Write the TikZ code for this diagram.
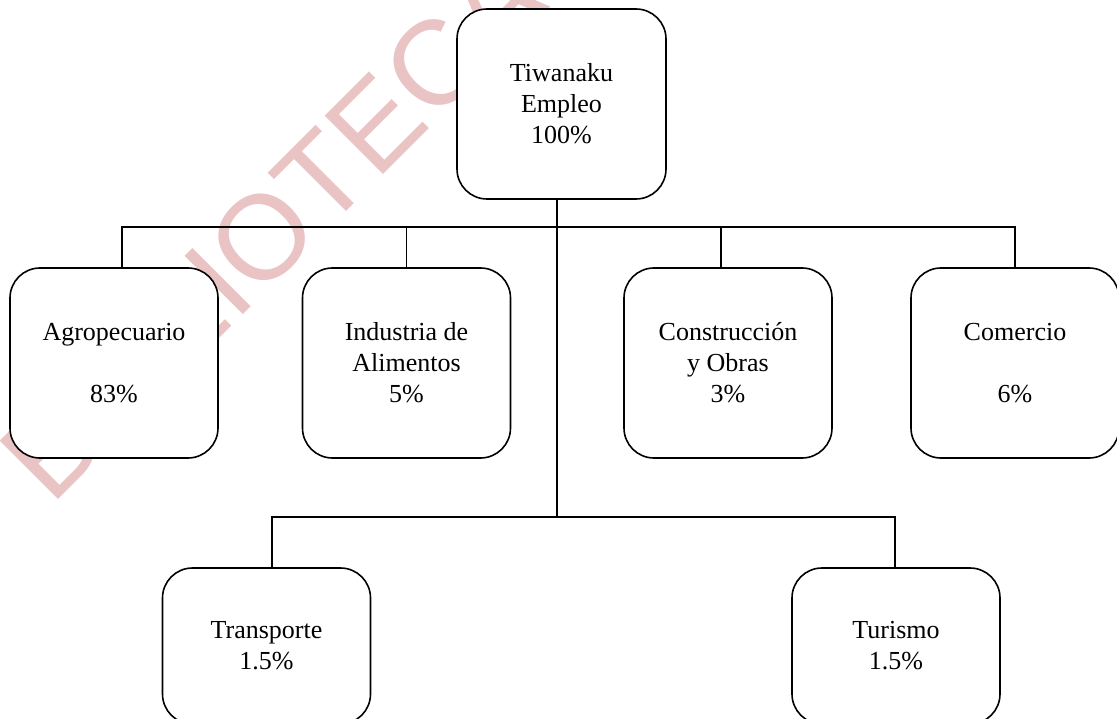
\documentclass[tikz,border=0pt]{standalone}
\usepackage{fontspec}
\setmainfont{Liberation Serif}
\newfontfamily\wmfont{Liberation Sans}
\usetikzlibrary{positioning}

\definecolor{wmpink}{RGB}{234,196,196}

\begin{document}
\begin{tikzpicture}[x=1pt, y=-1pt,
    sector/.style={rectangle, draw, rounded corners=30pt, fill=white, line width=1.6pt, minimum width=208pt, minimum height=190pt, inner sep=0pt, align=center, font=\fontsize{26}{31}\selectfont},
    link/.style={line width=1.6pt}
]
\clip (0,0) rectangle (1117,719);

% marca de agua
\node[rotate=45, anchor=base west, inner sep=0pt, text=wmpink, font=\wmfont\fontsize{120}{120}\selectfont] (marca) at (51,507) {BIBLIOTECA};

\node[sector, minimum width=209pt] (tiw) at (561.5,104) {Tiwanaku\\Empleo\\100\%};

\node[sector] (agro) at (114,363) {Agropecuario\\[31pt]83\%};
\node[sector] (ind) at (406.5,363) {Industria de\\Alimentos\\5\%};
\node[sector] (con) at (728,363) {Construcción\\y Obras\\3\%};
\node[sector] (com) at (1015,363) {Comercio\\[31pt]6\%};

\node[sector, minimum height=156pt] (tra) at (266.5,646) {Transporte\\1.5\%};
\node[sector, minimum height=156pt] (tur) at (896,646) {Turismo\\1.5\%};

\coordinate (bus1) at (557,227);
\coordinate (bus2) at (557,517);

\draw[link] ([xshift=8pt]agro.north) |- (bus1) -| (com.north);
\draw[link] (ind.north) -- (ind.north |- bus1);
\draw[link] ([xshift=-7pt]con.north) -- ([xshift=-7pt]con.north |- bus1);
\draw[link] (tiw.south -| bus2) -- (bus2);
\draw[link] ([xshift=5.5pt]tra.north) |- (bus2) -| ([xshift=-1pt]tur.north);
\end{tikzpicture}
\end{document}
